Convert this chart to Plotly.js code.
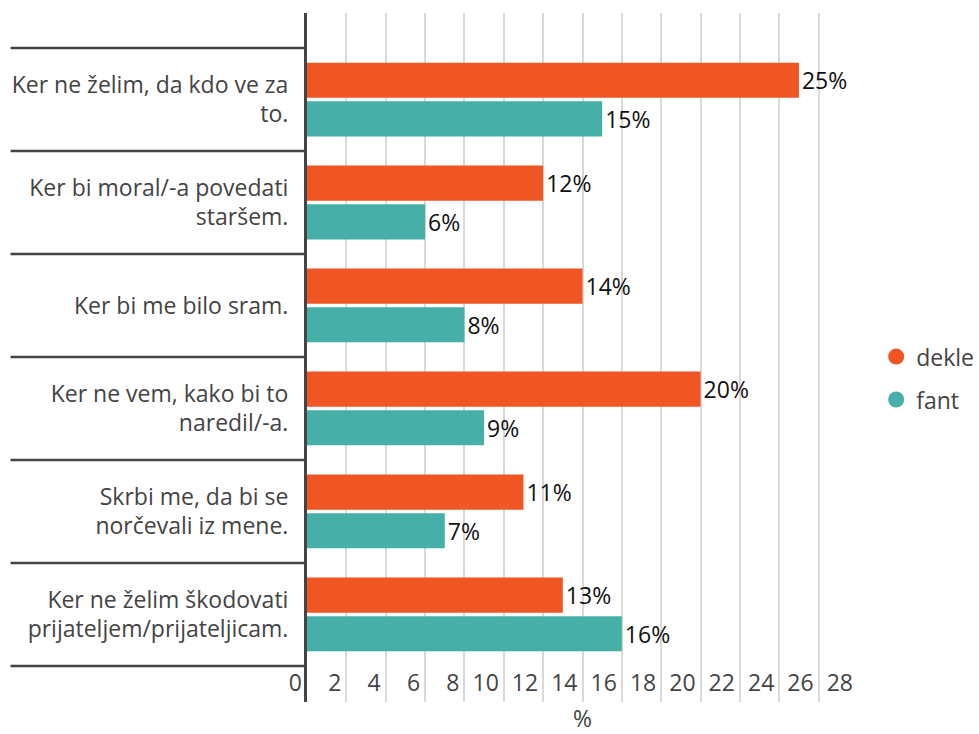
<!DOCTYPE html>
<html>
<head>
<meta charset="utf-8">
<script src="https://cdn.plot.ly/plotly-3.0.1.min.js"></script>
<style>
  body { margin: 0; background: #fff; }
  #chart { width: 979px; height: 734px; }
</style>
</head>
<body>
<div id="chart"></div>
<script>
// Razlogi (kategorije), od zgoraj navzdol
const categories = [
    'Ker ne želim, da kdo ve za<br>to.',
    'Ker bi moral/-a povedati<br>staršem.',
    'Ker bi me bilo sram.',
    'Ker ne vem, kako bi to<br>naredil/-a.',
    'Skrbi me, da bi se<br>norčevali iz mene.',
    'Ker ne želim škodovati<br>prijateljem/prijateljicam.'
];
const dekle = [25, 12, 14, 20, 11, 13];
const fant = [15, 6, 8, 9, 7, 16];
const xTicks = [0, 2, 4, 6, 8, 10, 12, 14, 16, 18, 20, 22, 24, 26, 28];

const orange = '#f05624';
const teal = '#45afa8';
const font = '"Open Sans", sans-serif';

function barTrace(name, values, color) {
    return {
        type: 'bar',
        orientation: 'h',
        name: name,
        x: values,
        y: categories,
        marker: { color: color },
        texttemplate: '%{x}%',
        textposition: 'outside',
        textfont: { color: '#111', size: 23, family: font },
        cliponaxis: false,
        showlegend: false,
        hoverinfo: 'skip'
    };
}

// legend-only markers (circles)
function legendTrace(name, color) {
    return {
        type: 'scatter',
        mode: 'markers',
        name: name,
        legendgroup: name,
        x: [null],
        y: [null],
        marker: { color: color, size: 21 }
    };
}

const data = [
    barTrace('dekle', dekle, orange),
    barTrace('fant', fant, teal),
    legendTrace('dekle', orange),
    legendTrace('fant', teal)
];

// separator lines between categories, left of the axis
const shapes = [];
for (let i = 0; i <= categories.length; i++) {
    shapes.push({
        type: 'line', xref: 'paper', yref: 'y',
        x0: -0.538, x1: 0, y0: i - 0.5, y1: i - 0.5,
        line: { color: '#444', width: 2.5 }
    });
}

const layout = {
    width: 979,
    height: 734,
    margin: { l: 307, r: 121, t: 13, b: 32, autoexpand: false },
    paper_bgcolor: '#fff',
    plot_bgcolor: '#fff',
    font: { family: font, size: 23, color: '#444' },
    barmode: 'group',
    bargap: 0.25,
    bargroupgap: 0.09,
    showlegend: true,
    legend: {
        x: 1.033, y: 0.47, xanchor: 'left', yanchor: 'middle',
        font: { size: 23, color: '#444' },
        tracegroupgap: 10
    },
    xaxis: {
        range: [0, 28],
        tickvals: xTicks,
        ticklabelposition: 'inside left',
        ticklabeloverflow: 'allow',
        ticklabelshift: -5,
        showgrid: true,
        gridcolor: '#d9d9d9',
        gridwidth: 2,
        zeroline: false,
        showline: false,
        ticks: '',
        tickfont: { size: 23, color: '#444' },
        title: { text: '%', standoff: 20, font: { size: 23, color: '#444' } }
    },
    yaxis: {
        type: 'category',
        categoryorder: 'array',
        categoryarray: categories,
        range: [5.85, -0.84],
        showline: true,
        linecolor: '#444',
        linewidth: 3,
        showgrid: false,
        zeroline: false,
        ticks: '',
        ticklabelstandoff: 11,
        tickfont: { size: 23, color: '#444' }
    },
    shapes: shapes
};

Plotly.newPlot('chart', data, layout, { displayModeBar: false, staticPlot: true });
</script>
</body>
</html>
